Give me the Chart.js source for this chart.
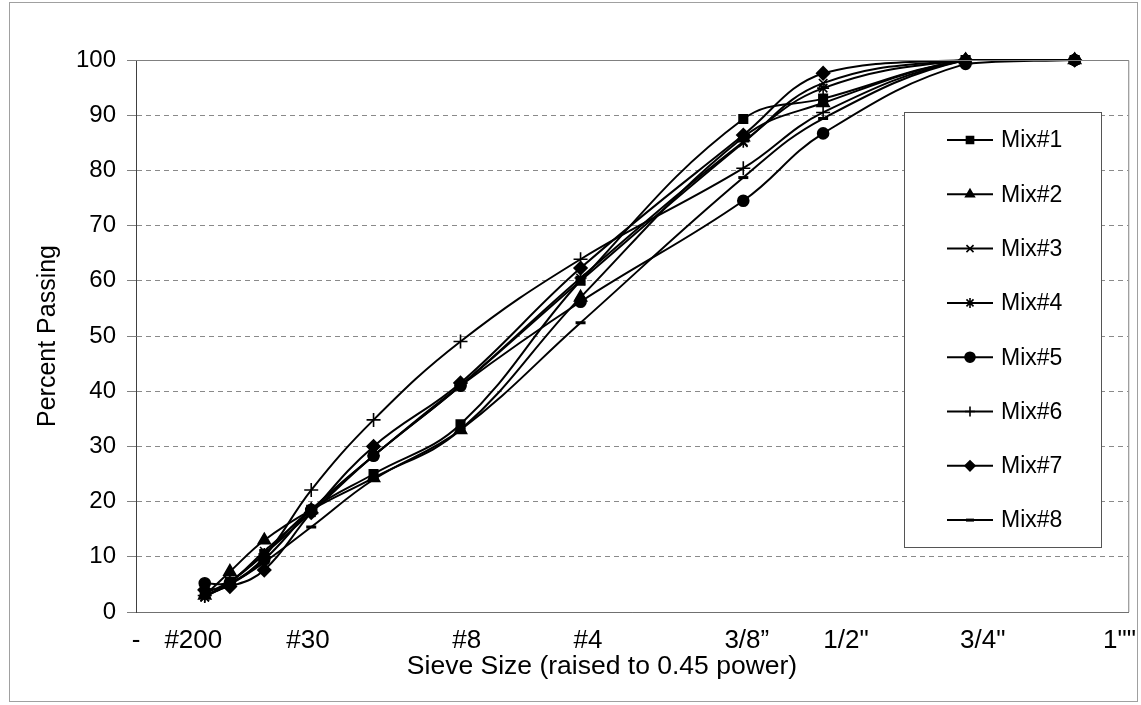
<!DOCTYPE html>
<html>
<head>
<meta charset="utf-8">
<script src="https://cdn.jsdelivr.net/npm/chart.js@4.4.0/dist/chart.umd.min.js"></script>
<style>
    html, body { margin: 0; padding: 0; background: #fff; }
    #wrap { position: relative; width: 1141px; height: 705px; }
</style>
</head>
<body>
<div id="wrap"><canvas id="gradationChart"></canvas></div>
<script>
// Sieve openings in mm, the x axis plots them raised to the 0.45 power
const sieveSizes = [0.075, 0.15, 0.3, 0.6, 1.18, 2.36, 4.75, 9.5, 12.5, 19, 25];

// Axis labels and where they sit along the axis
const tickLabels = ['-', '#200', '#30', '#8', '#4', '3/8\u201D', '1/2"', '3/4"', '1""'];
const tickValues = [0, 0.26, 0.78, 1.50, 2.05, 2.77, 3.22, 3.84, 4.46];
const xTitle = 'Sieve Size (raised to 0.45 power)';

// Percent passing per mix
const mixNames = ['Mix#1', 'Mix#2', 'Mix#3', 'Mix#4', 'Mix#5', 'Mix#6', 'Mix#7', 'Mix#8'];
const mix1 = [3.4, 5.5, 10.5, 18.5, 25.0, 34.0, 60.0, 89.3, 93.0, 100, 100];
const mix2 = [3.0, 7.3, 13.0, 18.5, 24.3, 33.0, 57.0, 86.0, 92.2, 100, 100];
const mix3 = [2.7, 5.3, 11.0, 18.5, 28.3, 41.0, 60.0, 85.0, 95.8, 100, 100];
const mix4 = [2.7, 5.5, 10.5, 18.0, 28.3, 41.0, 60.5, 85.2, 94.9, 100, 100];
const mix5 = [5.2, 5.3, 9.5, 18.5, 28.3, 41.0, 56.2, 74.5, 86.7, 99.3, 100];
const mix6 = [3.0, 5.0, 10.0, 22.1, 34.8, 49.0, 63.9, 80.4, 90.5, 100, 100];
const mix7 = [4.0, 4.6, 7.6, 18.0, 30.0, 41.5, 62.3, 86.4, 97.6, 100, 100];
const mix8 = [3.0, 5.0, 9.0, 15.4, 24.0, 33.0, 52.4, 78.7, 89.4, 100, 100];

const mixValues = [mix1, mix2, mix3, mix4, mix5, mix6, mix7, mix8];
const markers = ['rect', 'triangle', 'crossRot', 'star', 'circle', 'cross', 'rectRot', 'line'];
const markerSize = [6, 7, 6, 6, 5.5, 7, 6.5, 5];

const FONT = "'Liberation Sans', Arial, sans-serif";

// Build the datasets from the arrays above
function buildDatasets() {
    return mixNames.map((name, i) => ({
        label: name,
        data: mixValues[i].map((v, k) => ({ x: Math.pow(sieveSizes[k], 0.45), y: v })),
        borderColor: '#000',
        backgroundColor: '#000',
        borderWidth: 2,
        pointStyle: markers[i],
        pointRadius: markerSize[i],
        pointBorderWidth: markers[i] === 'line' ? 3 : 1.6,
        pointBorderColor: '#000',
        pointBackgroundColor: '#000',
        tension: 0.4,
        fill: false,
        clip: false
    }));
}

// White page, outer frame, plot frame (top + right), x axis title
const framePlugin = {
    id: 'frame',
    beforeDraw(chart) {
        const ctx = chart.ctx;
        ctx.save();
        ctx.fillStyle = '#fff';
        ctx.fillRect(0, 0, chart.width, chart.height);
        ctx.strokeStyle = '#a0a0a0';
        ctx.lineWidth = 1;
        ctx.strokeRect(9.5, 2.5, 1128, 699);
        ctx.restore();
    },
    afterDraw(chart) {
        const { ctx, chartArea: a } = chart;
        ctx.save();
        ctx.strokeStyle = '#808080';
        ctx.lineWidth = 1;
        ctx.beginPath();
        ctx.moveTo(a.left, a.top + 0.5);
        ctx.lineTo(a.right + 0.5, a.top + 0.5);
        ctx.lineTo(a.right + 0.5, a.bottom);
        ctx.stroke();

        // axis title sits a little left of the plot centre in the original
        ctx.fillStyle = '#000';
        ctx.font = '26.5px ' + FONT;
        ctx.textAlign = 'center';
        ctx.textBaseline = 'middle';
        ctx.fillText(xTitle, 602, 667);
        ctx.restore();
    }
};

// Boxed legend inside the plot, one row per mix
const legendPlugin = {
    id: 'boxLegend',
    afterDatasetsDraw(chart) {
        const ctx = chart.ctx;
        const box = { left: 904, top: 112, right: 1101, bottom: 547 };
        ctx.save();
        ctx.fillStyle = '#fff';
        ctx.fillRect(box.left, box.top, box.right - box.left, box.bottom - box.top);
        ctx.strokeStyle = '#555';
        ctx.lineWidth = 1;
        ctx.strokeRect(box.left + 0.5, box.top + 0.5, box.right - box.left, box.bottom - box.top);

        ctx.font = '23px ' + FONT;
        ctx.textBaseline = 'middle';
        ctx.textAlign = 'left';
        chart.data.datasets.forEach((ds, i) => {
            const y = 140 + i * 54.3;
            ctx.strokeStyle = '#000';
            ctx.fillStyle = '#000';
            ctx.lineWidth = 2;
            ctx.beginPath();
            ctx.moveTo(947, y);
            ctx.lineTo(993, y);
            ctx.stroke();
            ctx.lineWidth = ds.pointStyle === 'line' ? 3 : 1.6;
            Chart.helpers.drawPoint(ctx, {
                pointStyle: ds.pointStyle,
                radius: ds.pointStyle === 'line' ? 4 : 5,
                rotation: 0,
                borderWidth: ctx.lineWidth
            }, 970, y);
            ctx.fillStyle = '#000';
            ctx.fillText(ds.label, 1001, y + 1);
        });
        ctx.restore();
    }
};

function initChart() {
    const ctx = document.getElementById('gradationChart').getContext('2d');
    return new Chart(ctx, {
        type: 'line',
        data: { datasets: buildDatasets() },
        options: {
            responsive: false,
            animation: false,
            layout: { padding: { top: 60, right: 9, left: 0, bottom: 0 } },
            plugins: {
                legend: { display: false },
                tooltip: { enabled: false }
            },
            scales: {
                x: {
                    type: 'linear',
                    min: 0,
                    max: 4.5,
                    afterBuildTicks: (scale) => {
                        scale.ticks = tickValues.map(v => ({ value: v }));
                    },
                    afterFit: (scale) => { scale.height = 93; },
                    ticks: {
                        autoSkip: false,
                        maxRotation: 0,
                        padding: 5,
                        color: '#000',
                        font: { family: FONT, size: 26 },
                        callback: (value, index) => tickLabels[index]
                    },
                    grid: { display: false },
                    border: { display: true, color: '#707070', width: 1 }
                },
                y: {
                    min: 0,
                    max: 100,
                    afterFit: (scale) => { scale.width = 136; },
                    ticks: {
                        stepSize: 10,
                        padding: 11,
                        color: '#000',
                        font: { family: FONT, size: 24 }
                    },
                    grid: {
                        color: '#8a8a8a',
                        lineWidth: 1,
                        tickLength: 9,
                        tickColor: '#808080',
                        tickBorderDash: []
                    },
                    border: { display: true, color: '#404040', width: 1, dash: [5, 4] },
                    title: {
                        display: true,
                        text: 'Percent Passing',
                        color: '#000',
                        font: { family: FONT, size: 25 },
                        padding: { top: 33, bottom: 0 }
                    }
                }
            }
        },
        plugins: [framePlugin, legendPlugin]
    });
}

document.addEventListener('DOMContentLoaded', () => {
    const canvas = document.getElementById('gradationChart');
    canvas.width = 1141;
    canvas.height = 705;
    initChart();
});
</script>
</body>
</html>
